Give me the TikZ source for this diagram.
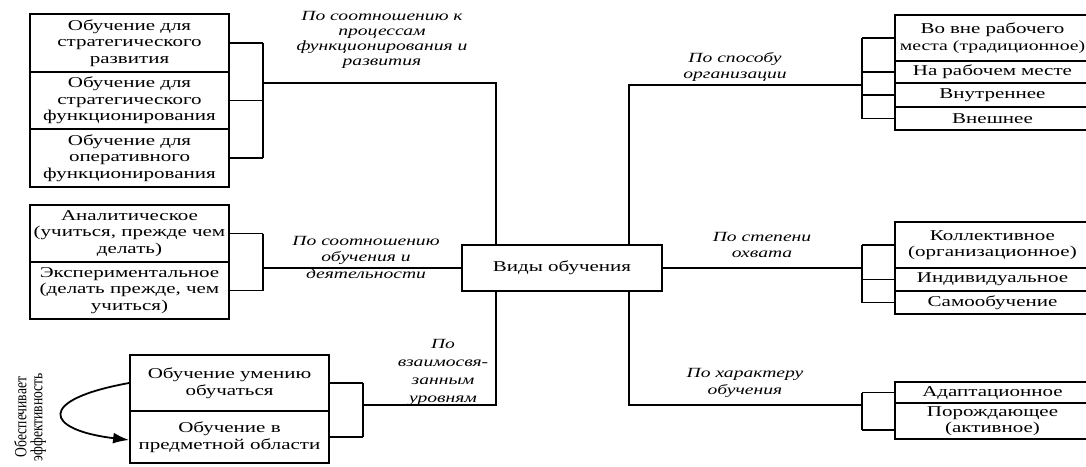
\documentclass[tikz,border=0pt]{standalone}
\usepackage{fontspec}
\setmainfont{Liberation Serif}[FakeStretch=1.4]
\newfontfamily\uprightfont{Liberation Serif}[FakeStretch=0.8]
\usetikzlibrary{arrows.meta}

\tikzset{
  kind/.style={draw, line width=1.8pt, minimum width=199pt, inner sep=1pt, align=center,
    font=\fontsize{15}{16.5}\selectfont},
  side/.style={kind, minimum width=195pt, text width=191pt},
  crit/.style={align=center, font=\fontsize{14}{16.5}\selectfont\itshape},
  link/.style={line width=1.8pt},
}

\begin{document}
\begin{tikzpicture}[x=1pt,y=-1pt]
      \useasboundingbox (0,0) rectangle (1086,466);
      \clip (0,0) rectangle (1086,466);
      \node[kind, minimum width=200, minimum height=46] (vo) at (562,268) {Виды обучения};

      \node[kind, minimum height=58] (pr1) at (129.5,43) {Обучение  для\\стратегического\\развития};
      \node[kind, minimum height=57] (pr2) at (129.5,100.5) {Обучение для\\стратегического\\функционирования};
      \node[kind, minimum height=58] (pr3) at (129.5,158) {Обучение для\\оперативного\\функционирования};

      \node[kind, minimum height=57] (sd1) at (129.5,233.5) {Аналитическое\\(учиться, прежде чем\\делать)};
      \node[kind, minimum height=57] (sd2) at (129.5,290.5) {Экспериментальное\\(делать прежде, чем\\учиться)};

      \node[kind, minimum height=56] (uv1) at (229.5,383) {Обучение умению\\обучаться};
      \node[kind, minimum height=52] (uv2) at (229.5,437) {Обучение в\\предметной области};

      \node[side, minimum height=46] (sp1) at (992.5,38) {Во вне рабочего\\\mbox{\fontsize{14.1}{16.5}\selectfont места (традиционное)}};
      \node[side, minimum height=22] (sp2) at (992.5,72) {На рабочем месте};
      \node[side, minimum height=24] (sp3) at (992.5,95) {Внутреннее};
      \node[side, minimum height=23] (sp4) at (992.5,118.5) {Внешнее};

      \node[side, minimum height=46] (st1) at (992.5,245) {Коллективное\\(организационное)};
      \node[side, minimum height=23] (st2) at (992.5,279.5) {Индивидуальное};
      \node[side, minimum height=23] (st3) at (992.5,302.5) {Самообучение};

      \node[side, minimum height=21] (hr1) at (992.5,392.5) {Адаптационное};
      \node[side, minimum height=36] (hr2) at (992.5,421) {Порождающее\\(активное)};

      \node[crit, font=\fontsize{14}{15}\selectfont\itshape] (lpr) at (382,40) {По соотношению к\\процессам\\функционирования и\\развития};
      \node[crit] (lsp) at (735,67) {По способу\\организации};
      \node[crit] (lsd) at (366,257) {По соотношению\\обучения и\\деятельности};
      \node[crit] (lst) at (762,245) {По степени\\охвата};
      \node[crit, font=\fontsize{14}{18}\selectfont\itshape] (luv) at (443,372) {По\\взаимосвя-\\занным\\уровням};
      \node[crit] (lhr) at (745,383) {По характеру\\обучения};

      \node[rotate=90, align=center, font=\uprightfont\fontsize{17}{16}\selectfont] (eff) at (30,417) {Обеспечивает\\эффективность};

      \coordinate (bpr) at (263,83);
      \coordinate (bsd) at (263,268);
      \coordinate (buv) at (363,405);
      \coordinate (bsp) at (862,85);
      \coordinate (bst) at (862,268);
      \coordinate (bhr) at (862,405);

      \foreach \n in {pr1,pr2,pr3,sd1,sd2}
        \draw[link] (\n.east) -- (\n.east -| bpr);
      \foreach \n in {uv1,uv2}
        \draw[link] (\n.east) -- (\n.east -| buv);
      \foreach \n in {sp1,sp2,sp3,sp4,st1,st2,st3,hr1}
        \draw[link] (\n.west) -- (\n.west -| bsp);
      \draw[link] ([yshift=-9pt]hr2.west) -- ([yshift=-9pt]hr2.west -| bhr);

      \draw[link] (pr1.east -| bpr) -- (pr3.east -| bpr);
      \draw[link] (sd1.east -| bsd) -- (sd2.east -| bsd);
      \draw[link] (uv1.east -| buv) -- (uv2.east -| buv);
      \draw[link] (sp1.west -| bsp) -- (sp4.west -| bsp);
      \draw[link] (st1.west -| bst) -- (st3.west -| bst);
      \draw[link] (hr1.west -| bhr) -- ([yshift=-9pt]hr2.west -| bhr);

      \draw[link] (bpr) -| ([xshift=-66pt]vo.north);
      \draw[link] (buv) -| ([xshift=-66pt]vo.south);
      \draw[link] (bsp) -| ([xshift=67pt]vo.north);
      \draw[link] (bhr) -| ([xshift=67pt]vo.south);
      \draw[link] (vo.west) -- (bsd);
      \draw[link] (vo.east) -- (bst);

      \draw[link, -{Latex[length=16pt,width=11pt]}] (uv1.west)
        .. controls (35,400) and (45,430) .. ([yshift=-3pt]uv2.west);
    \end{tikzpicture}
\end{document}
